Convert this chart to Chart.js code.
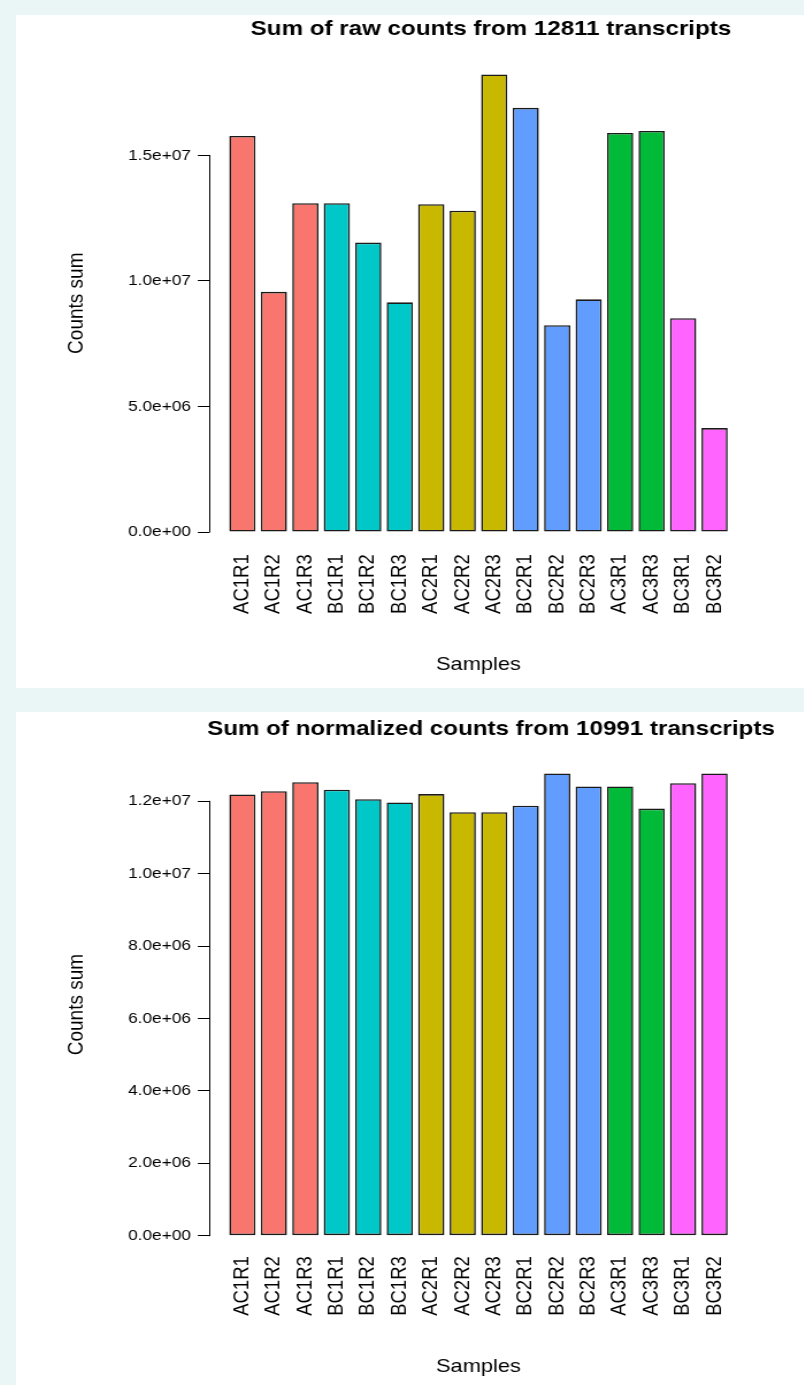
<!DOCTYPE html>
<html>
<head>
<meta charset="utf-8">
<title>Counts sum per sample</title>
<script src="https://cdn.jsdelivr.net/npm/chart.js@4/dist/chart.umd.min.js"></script>
<style>
  html, body { margin: 0; padding: 0; width: 804px; height: 1385px; overflow: hidden; background: #eaf5f6; }
  .panel { position: absolute; left: 16px; width: 788px; height: 673px; background: #ffffff; overflow: hidden; }
  /* the device output is wider than tall: stretch each canvas horizontally */
  .panel canvas { position: absolute; left: 0; top: 0; transform: scaleX(1.15); transform-origin: 0 0; }
</style>
</head>
<body>
<div class="panel" style="top:15px"><canvas id="rawChart" width="826" height="673"></canvas></div>
<div class="panel" style="top:712px"><canvas id="normChart" width="826" height="673"></canvas></div>

<script>
// ---- data ----------------------------------------------------------------
const samples = ['AC1R1', 'AC1R2', 'AC1R3', 'BC1R1', 'BC1R2', 'BC1R3',
                 'AC2R1', 'AC2R2', 'AC2R3', 'BC2R1', 'BC2R2', 'BC2R3',
                 'AC3R1', 'AC3R3', 'BC3R1', 'BC3R2'];

const rawSums = [15780000, 9570000, 13100000, 13100000, 11530000, 9150000,
                 13060000, 12800000, 18230000, 16900000, 8240000, 9270000,
                 15900000, 15980000, 8520000, 4140000];

const normSums = [12190000, 12280000, 12530000, 12320000, 12060000, 11970000,
                  12200000, 11700000, 11700000, 11880000, 12770000, 12410000,
                  12410000, 11800000, 12500000, 12770000];

const rawTicks = [0, 5000000, 10000000, 15000000];
const rawTickLabels = ['0.0e+00', '5.0e+06', '1.0e+07', '1.5e+07'];

const normTicks = [0, 2000000, 4000000, 6000000, 8000000, 10000000, 12000000];
const normTickLabels = ['0.0e+00', '2.0e+06', '4.0e+06', '6.0e+06', '8.0e+06', '1.0e+07', '1.2e+07'];

// one colour per condition (first three characters of the sample name)
const conditionColors = {
  AC1: '#F8766D', BC1: '#00C8C8', AC2: '#C9B800',
  BC2: '#619CFF', AC3: '#00BA38', BC3: '#FF64FF'
};

// ---- drawing ---------------------------------------------------------------
const FONT = '"Liberation Sans", Arial, Helvetica, sans-serif';
Chart.defaults.font.family = FONT;
Chart.defaults.color = '#000';

// y axis line spans only the labelled range, from first to last tick
const shortAxisLine = {
  id: 'shortAxisLine',
  afterDraw(chart) {
    const ys = chart.scales.y;
    const t = ys.ticks;
    const x = Math.round(chart.chartArea.left) + 0.5;
    const ctx = chart.ctx;
    ctx.save();
    ctx.strokeStyle = '#000';
    ctx.lineWidth = 1;
    ctx.beginPath();
    ctx.moveTo(x, ys.getPixelForValue(t[0].value) + 0.5);
    ctx.lineTo(x, ys.getPixelForValue(t[t.length - 1].value) - 0.5);
    ctx.stroke();
    ctx.restore();
  }
};

function barPanel(canvasId, p) {
  const W = 826, H = 673;
  const lh = 21 * 1.2;
  const colors = samples.map(s => conditionColors[s.slice(0, 3)]);
  return new Chart(document.getElementById(canvasId), {
    type: 'bar',
    data: {
      datasets: [{
        data: p.values.map((v, i) => ({ x: i, y: v })),
        backgroundColor: colors,
        borderColor: '#1a1a1a',
        borderWidth: 1.6,
        borderSkipped: false,
        categoryPercentage: 1,
        barPercentage: 1 / 1.2
      }]
    },
    options: {
      responsive: false,
      animation: false,
      devicePixelRatio: 1,
      layout: { padding: 0 },
      plugins: {
        legend: { display: false },
        tooltip: { enabled: false },
        title: {
          display: true,
          text: p.title,
          fullSize: true,
          align: 'center',
          color: '#000',
          font: { family: FONT, size: 21, weight: 'bold' },
          padding: { top: p.titleCenter - lh / 2, bottom: p.plotTop - p.titleCenter - lh / 2 }
        }
      },
      scales: {
        x: {
          type: 'linear',
          min: -1.05,
          max: 16.05,
          offset: false,
          afterBuildTicks: s => { s.ticks = samples.map((_, i) => ({ value: i })); },
          afterFit: s => { s.height = H - p.plotBottom; },
          grid: { display: false, drawTicks: false, offset: false },
          border: { display: false },
          ticks: {
            autoSkip: false,
            minRotation: 90,
            maxRotation: 90,
            padding: p.nameGap,
            color: '#000',
            font: { family: FONT, size: 18.5 },
            callback: (v, i) => samples[i]
          },
          title: {
            display: true,
            text: 'Samples',
            color: '#000',
            font: { family: FONT, size: 19 },
            padding: { top: 0, bottom: H - p.xTitleCenter - 11.4 }
          }
        },
        y: {
          min: p.yMin,
          max: p.yMax,
          afterBuildTicks: s => { s.ticks = p.ticks.map(v => ({ value: v })); },
          afterFit: s => { s.width = p.plotLeft; },
          grid: { display: true, drawOnChartArea: false, drawTicks: true, tickLength: 10, color: '#000', lineWidth: 1 },
          border: { display: false },
          ticks: {
            padding: 6,
            color: '#000',
            font: { family: FONT, size: 15 },
            callback: (v, i) => p.tickLabels[i]
          },
          title: {
            display: true,
            text: 'Counts sum',
            color: '#000',
            font: { family: FONT, size: 19 },
            padding: { top: 41.6, bottom: 0 }
          }
        },
        // empty right-hand margin of the figure (no ticks, no line)
        yMargin: {
          position: 'right',
          afterFit: s => { s.width = W - p.plotRight; },
          grid: { display: false, drawTicks: false },
          border: { display: false },
          ticks: { display: false }
        }
      }
    },
    plugins: [shortAxisLine]
  });
}

barPanel('rawChart', {
  title: 'Sum of raw counts from 12811 transcripts',
  values: rawSums,
  ticks: rawTicks,
  tickLabels: rawTickLabels,
  yMin: -729000,
  yMax: 18960000,
  plotLeft: 168.1,
  plotRight: 636.2,
  plotTop: 41.1,
  plotBottom: 535.3,
  titleCenter: 14.5,
  nameGap: 4,
  xTitleCenter: 650
});

barPanel('normChart', {
  title: 'Sum of normalized counts from 10991 transcripts',
  values: normSums,
  ticks: normTicks,
  tickLabels: normTickLabels,
  yMin: -511000,
  yMax: 13280000,
  plotLeft: 168.1,
  plotRight: 636.2,
  plotTop: 43,
  plotBottom: 542.2,
  titleCenter: 17,
  nameGap: 2,
  xTitleCenter: 655
});
</script>
</body>
</html>
